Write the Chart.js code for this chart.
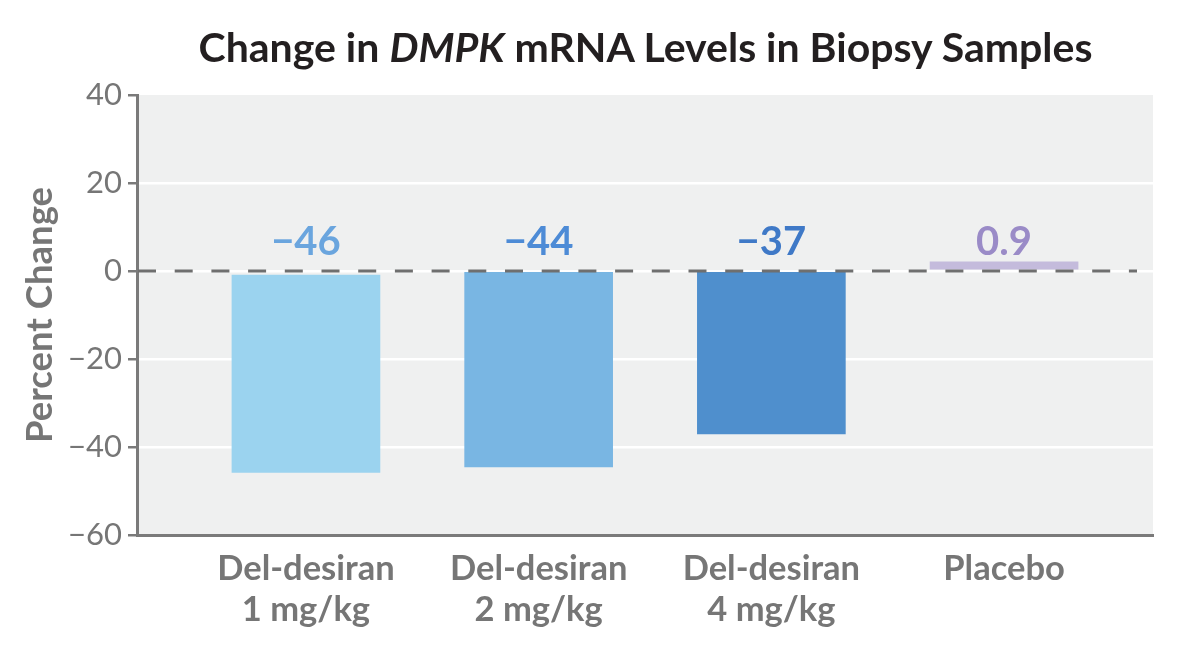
<!DOCTYPE html>
<html>
<head>
<meta charset="utf-8">
<script src="https://cdn.jsdelivr.net/npm/chart.js@4.4.0/dist/chart.umd.min.js"></script>
<style>
  html, body { margin: 0; padding: 0; background: #fff; }
  #wrap { position: relative; width: 1200px; height: 645px; }
  #title {
    position: absolute; top: 26px; left: 138px; width: 1015px;
    text-align: center; font: bold 41px Lato, sans-serif; line-height: 1;
    color: #231f20; white-space: nowrap;
  }
  canvas { position: absolute; top: 0; left: 0; }
</style>
</head>
<body>
<div id="wrap">
  <canvas id="chart" width="1200" height="645"></canvas>
  <div id="title">Change in <i>DMPK</i> mRNA Levels in Biopsy Samples</div>
</div>
<script>
// Data
const categories = [['Del-desiran', '1 mg/kg'], ['Del-desiran', '2 mg/kg'], ['Del-desiran', '4 mg/kg'], 'Placebo'];
const barStart = [-0.9, 0, 0, 0.4];
const barEnd = [-45.8, -44.5, -37.0, 2.1];
const valueLabels = ['\u221246', '\u221244', '\u221237', '0.9'];
const yTicks = [40, 20, 0, -20, -40, -60];

// Styles
const barColors = ['#9bd3ef', '#79b6e3', '#4f8fcd', '#c4bbdc'];
const labelColors = ['#6aa5de', '#4d8bd6', '#3f79c7', '#9a8bc7'];
const axisGray = '#7a7a7a';
const textGray = '#767676';

const plotBackground = {
    id: 'plotBackground',
    beforeDraw(chart) {
        const { ctx, chartArea: a } = chart;
        ctx.save();
        ctx.fillStyle = '#eff0f0';
        ctx.fillRect(a.left, a.top, a.right - a.left, a.bottom - a.top);
        ctx.restore();
    }
};

const zeroLine = {
    id: 'zeroLine',
    afterDatasetsDraw(chart) {
        const { ctx, chartArea: a, scales } = chart;
        const y = scales.y.getPixelForValue(0);
        ctx.save();
        ctx.strokeStyle = '#6f6f6f';
        ctx.lineWidth = 3;
        ctx.setLineDash([18, 18.7]);
        ctx.beginPath();
        ctx.moveTo(a.left + 1, y);
        ctx.lineTo(a.right - 16, y);
        ctx.stroke();
        ctx.restore();
    }
};

const barValueLabels = {
    id: 'barValueLabels',
    afterDatasetsDraw(chart) {
        const { ctx, scales } = chart;
        const meta = chart.getDatasetMeta(0);
        const y = scales.y.getPixelForValue(0) - 16;
        ctx.save();
        ctx.font = 'bold 40px Lato, sans-serif';
        ctx.textAlign = 'center';
        ctx.textBaseline = 'alphabetic';
        meta.data.forEach((bar, i) => {
            ctx.fillStyle = labelColors[i];
            ctx.fillText(valueLabels[i], bar.x, y);
        });
        ctx.restore();
    }
};

const ctx = document.getElementById('chart').getContext('2d');
const chart = new Chart(ctx, {
    type: 'bar',
    data: {
        datasets: [{
            data: categories.map((c, i) => ({ x: i, y: [barStart[i], barEnd[i]] })),
            backgroundColor: barColors,
            borderWidth: 0,
            barThickness: 148
        }]
    },
    options: {
        responsive: false,
        animation: false,
        layout: { padding: { top: 95, right: 47, bottom: 0, left: 0 } },
        plugins: {
            legend: { display: false },
            tooltip: { enabled: false }
        },
        scales: {
            x: {
                type: 'linear',
                offset: false,
                min: -0.726,
                max: 3.64,
                afterBuildTicks: s => { s.ticks = categories.map((c, i) => ({ value: i })); },
                afterFit: s => { s.height = 110; },
                ticks: {
                    callback: v => categories[v],
                    font: { family: 'Lato', size: 34.5, weight: 'bold', lineHeight: 1.17 },
                    color: textGray,
                    padding: 14,
                    maxRotation: 0,
                    autoSkip: false
                },
                grid: { display: false, drawTicks: false, offset: false },
                border: { color: axisGray, width: 3 }
            },
            y: {
                min: -60,
                max: 40,
                afterBuildTicks: s => { s.ticks = yTicks.map(v => ({ value: v })); },
                afterFit: s => { s.width = 137; },
                ticks: {
                    callback: v => v < 0 ? '\u2212' + Math.abs(v) : String(v),
                    font: { family: 'Lato', size: 31 },
                    color: textGray,
                    padding: 6
                },
                grid: {
                    color: c => (c.tick && c.tick.value === 40) ? 'rgba(0,0,0,0)' : '#ffffff',
                    lineWidth: 2.5,
                    tickColor: axisGray,
                    tickLength: 9,
                    tickWidth: 2.5
                },
                border: { color: axisGray, width: 3 },
                title: {
                    display: true,
                    text: 'Percent Change',
                    font: { family: 'Lato', size: 36.5, weight: 'bold' },
                    color: textGray,
                    padding: { top: 18, bottom: 0 }
                }
            }
        }
    },
    plugins: [plotBackground, zeroLine, barValueLabels]
});
</script>
</body>
</html>
